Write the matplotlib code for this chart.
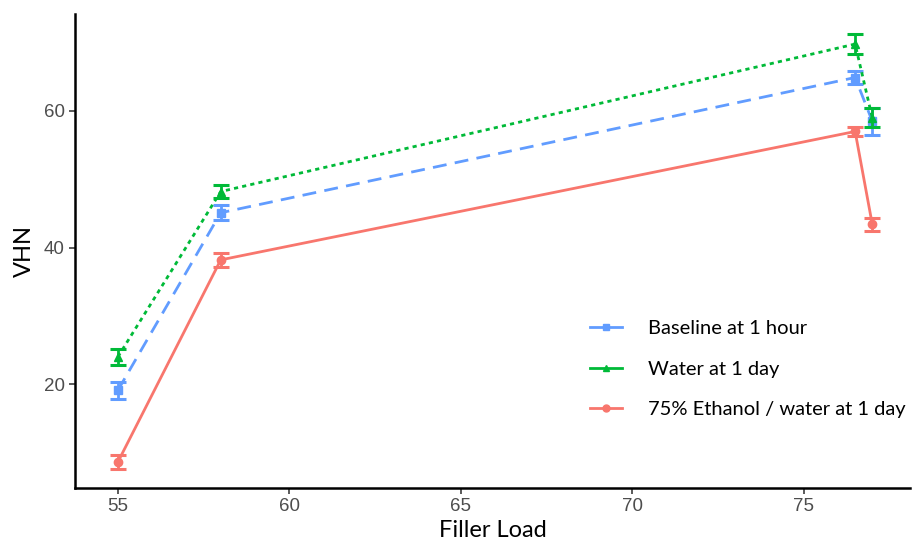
import matplotlib
matplotlib.use("Agg")
import matplotlib.pyplot as plt

filler = [55, 58, 76.5, 77]
baseline = [19.1, 45.1, 64.9, 58.5]
baseline_err = [1.2, 1.1, 1.0, 2.0]
water = [24.0, 48.2, 69.8, 59.0]
water_err = [1.2, 1.0, 1.5, 1.4]
ethanol = [8.6, 38.2, 57.0, 43.4]
ethanol_err = [1.0, 1.0, 0.7, 1.0]

labels = ["Baseline at 1 hour", "Water at 1 day", "75% Ethanol / water at 1 day"]
colors = ["#619CFF", "#00BA38", "#F8766D"]
markers = ["s", "^", "o"]
styles = [(0, (5, 3)), (0, (1.5, 1.5)), "-"]
xticks = [55, 60, 65, 70, 75]
yticks = [20, 40, 60]

fig = plt.figure(figsize=(9.17, 5.42), dpi=100)
ax = fig.add_axes([75/917, 1-488/542, (910-75)/917, (488-14)/542])

series = [(baseline, baseline_err), (water, water_err), (ethanol, ethanol_err)]
for (vals, errs), lab, c, m, ls in zip(series, labels, colors, markers, styles):
    ax.errorbar(filler, vals, yerr=errs, color=c, fmt="none", capsize=6, capthick=2.2, elinewidth=2)
    ax.plot(filler, vals, color=c, marker=m, markersize=6, linestyle=ls, linewidth=2, label=lab)

ax.set_xlim(53.75, 78.1)
ax.set_ylim(4.8, 74.2)
ax.set_xticks(xticks)
ax.set_yticks(yticks)
for s in ["top", "right"]:
    ax.spines[s].set_visible(False)
for s in ["left", "bottom"]:
    ax.spines[s].set_linewidth(1.8)
    ax.spines[s].set_color("black")
ax.tick_params(axis="both", colors="#4D4D4D", labelsize=13.5, length=4, width=1.3, direction="out")
for lbl in ax.get_xticklabels() + ax.get_yticklabels():
    lbl.set_family("Liberation Sans")
    lbl.set_color("#4D4D4D")
ax.set_xlabel("Filler Load", fontsize=17, family="Lato", labelpad=3)
ax.set_ylabel("VHN", fontsize=17, family="Lato", labelpad=6)

leg_handles = []
for lab, c, m, ls in zip(labels, colors, markers, styles):
    leg_handles.append(plt.Line2D([], [], color=c, marker=m, markersize=5, linestyle="-", linewidth=2))
ax.legend(leg_handles, labels, loc="lower left", bbox_to_anchor=(0.60, 0.118), frameon=False,
          prop={"family": "Lato", "size": 14.5}, labelspacing=1.15, handlelength=1.6,
          handletextpad=1.3, borderaxespad=0.3)

fig.savefig("out.png", dpi=100)
